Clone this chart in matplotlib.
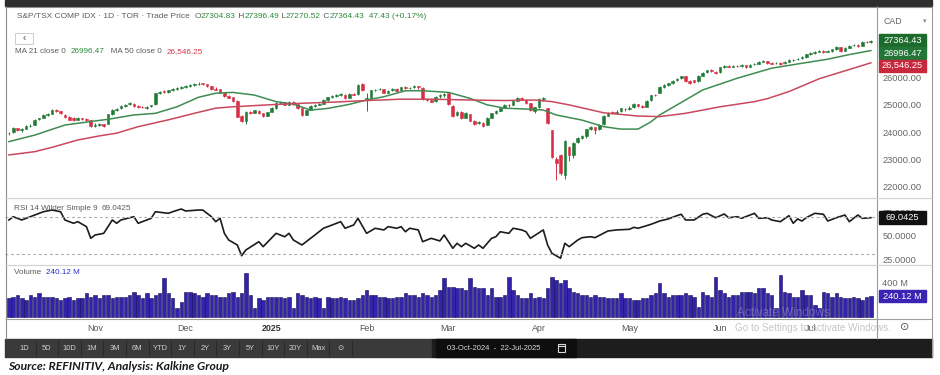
import matplotlib
matplotlib.use("Agg")
import matplotlib.pyplot as plt
from matplotlib.patches import Rectangle
import numpy as np
import pandas as pd

plt.rcParams["font.family"] = ["Liberation Sans", "DejaVu Sans"]

# ---- data (S&P/TSX composite, daily) ----
tsx_holidays = ["2024-10-14", "2024-12-25", "2024-12-26", "2025-01-01",
                "2025-02-17", "2025-04-18", "2025-05-19", "2025-07-01"]
month_labels = ["Nov", "Dec", "2025", "Feb", "Mar", "Apr", "May", "Jun", "Jul"]

opens = [
    # Oct
    23980, 23990, 24150, 24080, 24120, 24220, 24260, 24470, 24510, 24640,
    24680, 24820, 24770, 24640, 24570, 24500, 24460, 24510, 24490, 24450,
    # Nov
    24230, 24260, 24290, 24300, 24650, 24830, 24870, 24960, 25030, 25050,
    24950, 24940, 24900, 24950, 25020, 25430, 25500, 25470, 25550, 25590, 25630,
    # Dec
    25660, 25700, 25730, 25770, 25790, 25760, 25690, 25600, 25570, 25440,
    25330, 25280, 25150, 24600, 24400, 24740, 24710, 24790, 24690, 24600,
    # Jan
    24750, 24880, 25080, 25090, 25000, 25110, 25030, 24870, 24640, 24820, 24970,
    25010, 25040, 25190, 25290, 25330, 25370, 25380, 25260, 25400, 25390, 25780,
    # Feb
    25220, 25260, 25540, 25570, 25580, 25450, 25530, 25590, 25530, 25650,
    25630, 25640, 25680, 25630, 25230, 25190, 25140, 25310, 25360,
    # Mar
    25420, 24950, 24620, 24740, 24530, 24660, 24410, 24320, 24350, 24260, 24530,
    24700, 24790, 24890, 24990, 25000, 25160, 25270, 25190, 25060, 24790,
    # Apr
    24930, 25200, 24900, 24070, 23000, 23150, 22420, 23450, 23150, 23650, 23800,
    23840, 24110, 24180, 24100, 24280, 24610, 24730, 24720, 24760, 24860,
    # May
    24850, 24920, 25020, 24950, 24930, 25170, 25370, 25450, 25650, 25740, 25800,
    25900, 25980, 26050, 25870, 25900, 25870, 26080, 26200, 26270, 26220,
    # Jun
    26200, 26390, 26430, 26400, 26440, 26440, 26460, 26410, 26490, 26520, 26590,
    26610, 26540, 26530, 26550, 26530, 26590, 26650, 26670, 26710, 26760,
    # Jul
    26870, 26910, 26960, 26990, 26960, 26990, 27050, 27120, 26990, 27110,
    27190, 27210, 27180, 27330, 27304.83,
]
highs = [
    24020, 24180, 24160, 24140, 24250, 24280, 24470, 24530, 24660, 24700,
    24860, 24850, 24790, 24660, 24590, 24540, 24560, 24530, 24520, 24460,
    24330, 24320, 24310, 24680, 24840, 24880, 24980, 25050, 25100, 25070,
    24990, 24960, 24970, 25010, 25440, 25510, 25530, 25560, 25610, 25640, 25680,
    25720, 25750, 25790, 25830, 25820, 25780, 25700, 25640, 25580, 25460,
    25360, 25300, 25180, 24640, 24780, 24780, 24820, 24810, 24700, 24750,
    24910, 25090, 25140, 25120, 25140, 25130, 25050, 24880, 24830, 24990, 25030,
    25070, 25200, 25300, 25350, 25390, 25430, 25400, 25430, 25420, 25770, 25820,
    25420, 25550, 25600, 25620, 25600, 25550, 25620, 25610, 25660, 25680,
    25670, 25720, 25700, 25650, 25260, 25230, 25330, 25400, 25430,
    25450, 24980, 24780, 24760, 24730, 24680, 24450, 24410, 24380, 24540, 24720,
    24800, 24900, 25020, 25030, 25170, 25280, 25300, 25210, 25070, 24940,
    25240, 25290, 24900, 24080, 23100, 23200, 23720, 23490, 23620, 23820, 23900,
    24130, 24230, 24200, 24290, 24620, 24750, 24770, 24800, 24890, 24900,
    24950, 25060, 25040, 24990, 25180, 25380, 25400, 25680, 25760, 25820, 25910,
    25990, 26080, 26070, 25900, 25920, 26090, 26220, 26300, 26310, 26260,
    26400, 26450, 26460, 26460, 26480, 26490, 26480, 26510, 26540, 26600, 26640,
    26620, 26570, 26570, 26580, 26620, 26670, 26700, 26730, 26780, 26880,
    26940, 26980, 27020, 27010, 27010, 27070, 27150, 27140, 27120, 27200,
    27230, 27240, 27340, 27360, 27396.49,
]
lows = [
    23900, 23980, 24040, 24020, 24100, 24190, 24250, 24430, 24500, 24600,
    24670, 24740, 24650, 24500, 24440, 24410, 24430, 24430, 24420, 24180,
    24200, 24220, 24200, 24290, 24640, 24780, 24850, 24930, 25000, 24930,
    24890, 24880, 24860, 24920, 25010, 25400, 25430, 25450, 25520, 25560, 25600,
    25630, 25660, 25700, 25740, 25730, 25660, 25560, 25530, 25420, 25300,
    25240, 25120, 24540, 24380, 24300, 24660, 24700, 24680, 24550, 24590,
    24730, 24860, 25030, 24980, 24980, 25010, 24850, 24590, 24620, 24800, 24930,
    24980, 25020, 25160, 25260, 25300, 25340, 25220, 25240, 25350, 25380, 25520,
    24780, 25240, 25500, 25530, 25420, 25430, 25500, 25490, 25510, 25590,
    25590, 25610, 25600, 25190, 25140, 25090, 25120, 25250, 25300,
    24990, 24560, 24590, 24490, 24500, 24390, 24250, 24280, 24200, 24250, 24510,
    24670, 24760, 24870, 24940, 24990, 25140, 25170, 25050, 24780, 24700,
    24900, 25140, 24290, 23050, 22230, 22430, 22280, 22950, 23050, 23600, 23750,
    23800, 24080, 23930, 24060, 24260, 24580, 24660, 24680, 24730, 24760,
    24800, 24890, 24920, 24870, 24910, 25150, 25320, 25430, 25620, 25700, 25770,
    25870, 25950, 25850, 25780, 25820, 25860, 26060, 26170, 26200, 26140,
    26180, 26370, 26380, 26380, 26400, 26410, 26370, 26390, 26460, 26500, 26560,
    26520, 26490, 26500, 26480, 26500, 26560, 26620, 26640, 26680, 26740,
    26840, 26880, 26930, 26920, 26930, 26960, 27020, 26950, 26970, 27080,
    27150, 27140, 27160, 27280, 27270.52,
]
closes = [
    23950, 24160, 24080, 24110, 24230, 24240, 24450, 24500, 24640, 24650,
    24830, 24780, 24690, 24540, 24460, 24440, 24520, 24470, 24460, 24210,
    24250, 24280, 24240, 24650, 24820, 24850, 24950, 25010, 25060, 24960,
    24930, 24920, 24940, 24980, 25420, 25480, 25460, 25540, 25580, 25620, 25650,
    25680, 25720, 25760, 25780, 25760, 25680, 25590, 25560, 25450, 25320,
    25270, 25140, 24560, 24420, 24740, 24700, 24800, 24700, 24580, 24730,
    24870, 25070, 25080, 25000, 25120, 25040, 24880, 24620, 24800, 24960, 25000,
    25020, 25180, 25280, 25320, 25360, 25400, 25250, 25410, 25380, 25740, 25540,
    25250, 25530, 25560, 25570, 25440, 25520, 25600, 25520, 25640, 25620,
    25630, 25690, 25640, 25210, 25180, 25120, 25300, 25350, 25400,
    25020, 24600, 24750, 24520, 24700, 24420, 24300, 24360, 24230, 24520, 24700,
    24780, 24880, 25000, 24980, 25150, 25260, 25200, 25080, 24800, 24920,
    25220, 25250, 24330, 23090, 22860, 22500, 23690, 23140, 23590, 23780, 23860,
    24100, 24190, 24070, 24260, 24600, 24720, 24710, 24750, 24870, 24840,
    24900, 25030, 24960, 24920, 25160, 25360, 25360, 25640, 25730, 25790, 25890,
    25970, 26060, 25880, 25820, 25850, 26070, 26190, 26280, 26230, 26180,
    26380, 26420, 26410, 26430, 26430, 26450, 26400, 26480, 26510, 26580, 26600,
    26550, 26520, 26540, 26520, 26580, 26640, 26660, 26700, 26750, 26860,
    26900, 26950, 26990, 26960, 26980, 27040, 27130, 26980, 27100, 27180,
    27200, 27170, 27320, 27317, 27364.43,
]
# volume in millions
volumes = [
    216, 235, 255, 216, 196, 255, 235, 275, 235, 235, 235, 216, 196, 216, 235, 196, 216, 216, 275, 235,
    255, 216, 255, 255, 216, 235, 235, 235, 255, 294, 255, 216, 275, 216, 255, 275, 451, 275, 216, 98, 176,
    294, 294, 275, 255, 235, 275, 255, 255, 235, 235, 275, 294, 235, 275, 510, 255, 98, 216, 196, 235,
    235, 235, 235, 216, 235, 98, 275, 255, 235, 216, 235, 216, 98, 235, 216, 216, 235, 216, 196, 196, 216, 255,
    314, 255, 255, 235, 235, 216, 216, 235, 235, 275, 255, 255, 235, 275, 255, 235, 255, 314, 451,
    353, 353, 333, 333, 314, 451, 353, 333, 333, 255, 333, 235, 235, 255, 471, 314, 255, 216, 216, 275, 216,
    235, 216, 333, 471, 431, 392, 431, 333, 294, 275, 255, 255, 235, 255, 235, 235, 216, 216, 216, 275, 216,
    216, 196, 196, 216, 216, 255, 275, 392, 275, 235, 255, 255, 255, 275, 255, 235, 118, 294, 255, 235, 471,
    314, 275, 235, 255, 255, 294, 294, 294, 275, 333, 333, 275, 255, 98, 490, 294, 275, 235, 235, 314, 255,
    255, 137, 98, 294, 275, 235, 275, 235, 216, 216, 235, 216, 196, 235, 240.12,
]

# moving averages, read at sample sessions (session 0 = 03-Oct-2024)
ma21_day = [0, 6, 13, 20, 23, 29, 34, 39, 44, 48, 52, 57, 62, 66, 70, 74, 79, 83, 87, 92,
            96, 102, 107, 111, 115, 121, 124, 127, 133, 138, 142, 146, 149, 151, 157, 161,
            169, 177, 184, 190, 195, 200]
ma21_val = [23650, 23890, 24260, 24410, 24470, 24630, 24690, 24930, 25280, 25430, 25460,
            25360, 25120, 25030, 24810, 24870, 25020, 25180, 25300, 25520, 25520, 25460,
            25240, 25000, 24880, 24840, 24810, 24630, 24440, 24200, 24110, 24110, 24380,
            24630, 25180, 25550, 25980, 26350, 26530, 26680, 26850, 26996.47]
ma50_day = [0, 6, 10, 16, 21, 25, 30, 37, 43, 48, 52, 60, 68, 75, 83, 91, 98, 107, 115,
            122, 126, 130, 138, 146, 151, 157, 165, 173, 176, 181, 188, 196, 200]
ma50_val = [23160, 23280, 23440, 23710, 23860, 23960, 24200, 24450, 24690, 24880, 24930,
            25000, 25060, 25100, 25160, 25210, 25210, 25180, 25160, 25180, 25120, 25000,
            24710, 24590, 24570, 24690, 24930, 25120, 25230, 25490, 25960, 26350, 26546.25]

# RSI 14 (Wilder) read at sample sessions
rsi_day = [0, 1, 3, 6, 8, 10, 12, 13, 15, 16, 18, 19, 20, 22, 24, 25, 26, 29, 30, 32, 33,
           34, 37, 38, 40, 41, 44, 45, 47, 48, 49, 50, 51, 53, 54, 55, 58, 59, 62, 64, 65,
           66, 68, 70, 71, 73, 74, 77, 78, 80, 81, 83, 85, 87, 88, 90, 91, 92, 93, 95, 96,
           98, 100, 101, 103, 104, 105, 106, 108, 109, 110, 112, 113, 114, 116, 117, 119,
           120, 121, 124, 125, 126, 128, 129, 130, 132, 133, 135, 136, 139, 141, 144, 145,
           146, 149, 151, 153, 155, 156, 157, 159, 161, 162, 164, 166, 167, 169, 170, 173,
           174, 176, 177, 179, 181, 182, 183, 184, 185, 187, 189, 190, 192, 194, 195, 197,
           198, 200]
rsi_val = [66.6, 70.1, 66.6, 71.9, 75.4, 77.2, 75.4, 66.6, 63.1, 64.8, 59.5, 47.1, 50.6,
           52.4, 66.6, 63.1, 66.6, 70.1, 63.1, 66.6, 68.4, 75.4, 73.7, 75.4, 78.3, 76.2,
           77.2, 77.2, 70.1, 64.8, 68.4, 52.4, 45.3, 40.0, 28.6, 34.7, 43.5, 38.2, 52.4,
           48.8, 52.4, 45.3, 40.0, 47.1, 50.6, 57.8, 59.5, 64.8, 57.8, 61.3, 68.4, 52.4,
           57.8, 56.0, 59.5, 57.8, 59.5, 54.1, 57.8, 56.0, 43.5, 47.1, 44.3, 50.6, 36.5,
           41.8, 38.2, 41.8, 36.5, 40.0, 36.5, 47.1, 48.8, 54.1, 52.4, 57.8, 56.0, 54.1,
           47.1, 56.0, 40.0, 31.2, 25.9, 41.8, 38.2, 45.3, 47.8, 48.8, 47.8, 54.9, 56.0,
           56.7, 58.8, 57.8, 62.0, 65.5, 67.7, 71.2, 72.7, 66.6, 66.6, 72.7, 73.7, 69.0,
           73.0, 69.0, 70.1, 68.4, 73.7, 68.4, 69.0, 66.6, 64.8, 71.2, 63.1, 67.7, 65.5,
           69.0, 73.7, 72.7, 65.5, 69.0, 71.9, 64.8, 71.9, 68.4, 69.0425]

toolbar_buttons = ["1D", "5D", "10D", "1M", "3M", "6M", "YTD", "1Y", "2Y", "3Y",
                   "5Y", "10Y", "20Y", "Max"]

# ---- styling ----
GRAY = "#5c5c5c"
GREEN_TXT = "#2f8a3c"
RED_TXT = "#d23a4a"
UP = "#1f7a36"
DOWN = "#d62f45"

sessions = pd.bdate_range("2024-10-03", "2025-07-22", freq="C", holidays=tsx_holidays)
n = len(sessions)
day = np.arange(n)

W, H = 940, 375
fig = plt.figure(figsize=(W / 100, H / 100), dpi=100)


def px_axes(x0, y0, x1, y1, **kw):
    return fig.add_axes([x0 / W, 1 - y1 / H, (x1 - x0) / W, (y1 - y0) / H], **kw)


ax_p = px_axes(5, 7, 876, 198)
ax_r = px_axes(5, 198, 876, 265, sharex=ax_p)
ax_v = px_axes(5, 265, 876, 318, sharex=ax_p)

for ax in (ax_p, ax_r, ax_v):
    ax.set_facecolor("none")
    for s in ax.spines.values():
        s.set_visible(False)
    ax.yaxis.tick_right()
    ax.tick_params(axis="y", length=0, pad=4.5, labelsize=6.7, labelcolor="#666666")
    ax.tick_params(axis="x", length=0)
ax_p.tick_params(labelbottom=False)
ax_r.tick_params(labelbottom=False)
ax_p.set_xlim(-0.9, n + 0.2)

# price panel
o, hi, lo, c = (np.array(a, dtype=float) for a in (opens, highs, lows, closes))
col = np.where(c >= o, UP, DOWN)
ax_p.vlines(day, lo, hi, colors=col, lw=0.7)
ax_p.bar(day, np.abs(c - o), bottom=np.minimum(o, c), width=0.62,
         color=col, edgecolor=col, lw=0.4)
ax_p.plot(ma21_day, ma21_val, color="#3f8c52", lw=1.1)
ax_p.plot(ma50_day, ma50_val, color="#c9485e", lw=1.1)
ax_p.set_ylim(21577, 28599)
ax_p.set_yticks([22000, 23000, 24000, 25000, 26000, 27000])
ax_p.yaxis.set_major_formatter(lambda v, p: f"{v:.2f}")

# RSI panel
ax_r.plot(rsi_day, rsi_val, color="#1c1c1c", lw=1.2)
for lvl in (70, 30):
    ax_r.axhline(lvl, color="#ababab", lw=0.8, ls=(0, (2.5, 2.5)))
ax_r.set_ylim(18.7, 90)
ax_r.set_yticks([25, 50, 75])
ax_r.yaxis.set_major_formatter(lambda v, p: f"{v:.4f}")

# volume panel
ax_v.bar(day, volumes, width=0.8, color="#3322aa", edgecolor="#140c55", lw=0.4)
ax_v.set_ylim(-15, 608)
ax_v.set_yticks([400])
ax_v.yaxis.set_major_formatter(lambda v, p: f"{v:.0f} M")

month_start = [i for i in range(1, n) if sessions[i].month != sessions[i - 1].month]
ax_v.set_xticks(month_start)
ax_v.set_xticklabels(month_labels)
ax_v.tick_params(axis="x", pad=4.5, labelsize=6.4, labelcolor="#555555")
ax_v.get_xticklabels()[2].set_fontweight("bold")
ax_v.get_xticklabels()[2].set_color("#333333")

# ---- decorations in pixel coordinates ----
deco = px_axes(0, 0, W, H)
deco.set_xlim(0, W)
deco.set_ylim(H, 0)
deco.axis("off")
deco.patch.set_visible(False)
renderer = fig.canvas.get_renderer()


def line(x0, y0, x1, y1, color="#9a9a9a", lw=0.8):
    deco.plot([x0, x1], [y0, y1], color=color, lw=lw, solid_capstyle="butt")


def text_run(x, y, parts, size=5.9):
    for s, color in parts:
        t = deco.text(x, y, s, color=color, fontsize=size, ha="left", va="center")
        x += t.get_window_extent(renderer).width


def panel_y(ax, v):
    return H - ax.transData.transform((0, v))[1]


def tag(y, s, face):
    deco.add_patch(Rectangle((879, y - 6.2), 47, 12.4, color=face, zorder=3))
    deco.text(902.5, y, s, color="white", fontsize=6.7, ha="center", va="center", zorder=4)


# frame
deco.add_patch(Rectangle((5, 0), 927, 5.5, color="#2e2e2e"))
line(5, 6.5, 932, 6.5, "#8c8c8c")
line(5.5, 6, 5.5, 339, "#8c8c8c")
line(876.5, 6, 876.5, 339, "#9a9a9a")
line(932, 6, 932, 357, "#9a9a9a")
line(5, 198, 932, 198, "#d2d2d2")
line(5, 265, 932, 265, "#d2d2d2")
line(5, 318.5, 932, 318.5, "#a0a0a0")

# header lines
text_run(17, 17, [("S&P/TSX COMP IDX · 1D · TOR · Trade Price  ", GRAY),
                  ("O", GRAY), (f"{opens[-1]:.2f}", GREEN_TXT),
                  (" H", GRAY), (f"{highs[-1]:.2f}", GREEN_TXT),
                  (" L", GRAY), (f"{lows[-1]:.2f}", GREEN_TXT),
                  (" C", GRAY), (f"{closes[-1]:.2f}", GREEN_TXT),
                  ("  47.43 (+0.17%)", GREEN_TXT)], size=6.0)
deco.add_patch(Rectangle((15, 33), 18, 10.5, facecolor="white", edgecolor="#cccccc", lw=0.7))
deco.text(24, 38.2, "‹", color="#444444", fontsize=7, ha="center", va="center")
text_run(15, 51.5, [("MA 21 close 0  ", GRAY), (f"{ma21_val[-1]:.2f}", GREEN_TXT),
                    ("   MA 50 close 0  ", GRAY), (f"{ma50_val[-1]:,.2f}", RED_TXT)])
text_run(14, 208, [("RSI 14 Wilder Simple 9  ", GRAY), (f"{rsi_val[-1]:.4f}", GRAY)])
text_run(14, 272.5, [("Volume  ", GRAY), (f"{volumes[-1]:.2f} M", "#2e2ec8")])

# right column
deco.text(883, 21, "CAD", color="#666666", fontsize=6.3, ha="left", va="center")
deco.text(925, 21, "▾", color="#888888", fontsize=5, ha="center", va="center",
          family="DejaVu Sans")
prev = -1e9
for val, s, face in [(closes[-1], f"{closes[-1]:.2f}", "#1d6b2c"),
                     (ma21_val[-1], f"{ma21_val[-1]:.2f}", "#237538"),
                     (ma50_val[-1], f"{ma50_val[-1]:,.2f}", "#c8283c")]:
    y = max(panel_y(ax_p, val), prev + 12.6)
    tag(y, s, face)
    prev = y
tag(panel_y(ax_r, rsi_val[-1]), f"{rsi_val[-1]:.4f}", "#111111")
tag(panel_y(ax_v, volumes[-1]), f"{volumes[-1]:.2f} M", "#3a24b4")

# windows watermark
deco.text(737, 313, "Activate Windows", color="#e4e0f4", alpha=0.3, fontsize=8.5,
          ha="left", va="center", zorder=5)
deco.text(735, 328, "Go to Settings to activate Windows.", color="#c6c6c6", fontsize=7.1,
          ha="left", va="center", zorder=1)
deco.text(905, 327.5, "⊙", color="#555555", fontsize=8, ha="center", va="center",
          family="DejaVu Sans")

# bottom toolbar
deco.add_patch(Rectangle((5, 339), 427, 18, color="#3a3a3a"))
deco.add_patch(Rectangle((432, 339), 500, 18, color="#1d1d1d"))
deco.add_patch(Rectangle((436, 339), 140, 18, color="#0e0e0e"))
bw = 22.6
for k, lab in enumerate(toolbar_buttons + ["⊙"]):
    cx = 13 + bw * (k + 0.5)
    deco.text(cx, 348, lab, color="#cfcfcf", fontsize=5.4, ha="center", va="center",
              family=["Liberation Sans", "DejaVu Sans"])
    line(13 + bw * (k + 1), 340, 13 + bw * (k + 1), 356, "#2a2a2a", 0.8)
deco.text(447, 348, "03-Oct-2024  -  22-Jul-2025", color="#d8d8d8", fontsize=5.5,
          ha="left", va="center")
deco.add_patch(Rectangle((558, 344), 7, 7.5, facecolor="none", edgecolor="#d8d8d8", lw=0.8))
line(558, 346, 565, 346, "#d8d8d8", 0.8)

# source line
deco.text(8, 366, "Source: REFINITIV, Analysis: Kalkine Group", color="#1a1a1a",
          fontsize=8.7, fontweight="bold", fontstyle="italic", family="Lato",
          ha="left", va="center")

fig.savefig("out.png", dpi=100, facecolor="white")
